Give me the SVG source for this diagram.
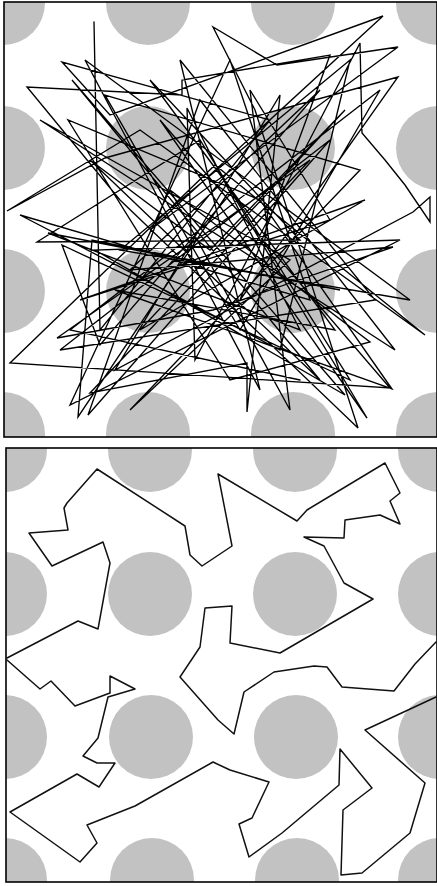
<svg xmlns="http://www.w3.org/2000/svg" width="437" height="886" viewBox="0 0 437 886">
<style>
.dot{fill:#c2c2c2}
.chain{fill:none;stroke:#000;stroke-width:1.35;stroke-linejoin:miter;stroke-linecap:round}
.chain2{fill:none;stroke:#111;stroke-width:1.5;stroke-linejoin:round;stroke-linecap:round}
.frame{fill:none;stroke:#000;stroke-width:1.6}
</style>
<defs>
<clipPath id="clipTop"><rect x="4" y="2" width="433" height="435"/></clipPath>
<clipPath id="clipBot"><rect x="6" y="448" width="431" height="434"/></clipPath>
</defs>
<rect x="0" y="0" width="437" height="886" fill="#fff"/>
<g id="panel-top">
<g id="obstacles-top" clip-path="url(#clipTop)">
<circle class="dot" cx="3" cy="3" r="42"/><circle class="dot" cx="148" cy="3" r="42"/><circle class="dot" cx="293" cy="3" r="42"/><circle class="dot" cx="438" cy="3" r="42"/>
<circle class="dot" cx="3" cy="148" r="42"/><circle class="dot" cx="148" cy="148" r="42"/><circle class="dot" cx="293" cy="148" r="42"/><circle class="dot" cx="438" cy="148" r="42"/>
<circle class="dot" cx="3" cy="291" r="42"/><circle class="dot" cx="148" cy="291" r="42"/><circle class="dot" cx="293" cy="291" r="42"/><circle class="dot" cx="438" cy="291" r="42"/>
<circle class="dot" cx="3" cy="434" r="42"/><circle class="dot" cx="148" cy="434" r="42"/><circle class="dot" cx="293" cy="434" r="42"/><circle class="dot" cx="438" cy="434" r="42"/>
</g>
<g id="chain-top">
<polyline class="chain" points="94,22 100,330 270,120 62,62 110,115 383,16 150,230 398,47 277,65 213,27 255,110 358,428 120,200 27,87 182,95 182,80 330,55 240,300 398,77 105,158 7,211 140,130 425,335 215,165 10,363 390,388 160,120 367,418 230,190 78,417 92,240 340,290 48,233 300,330 187,108 195,360 360,43 362,133 385,160 405,185 430,222 430,197 413,212 115,370 280,95 247,412 247,363 90,393 310,160 57,338 213,310 393,247 130,270 320,90 100,345 62,245 350,380 200,140 37,242 300,240 150,80 335,330 115,290 392,389 260,200 68,120 230,380 370,342 170,190 290,410 250,90 330,220 80,300 365,200 140,330 345,110 210,250 90,160 320,380 72,80 345,395 95,250 400,240 70,405 230,60 310,300 20,215 280,350 350,60 120,250 410,300 85,60 260,390 180,60 375,300 60,350 330,140 88,415 200,100 395,350 40,120 290,260 130,410 360,170 105,95 240,330 380,90 70,330 300,380"/>
</g>
<rect class="frame" x="4" y="2" width="433" height="435"/>
</g>
<g id="panel-bottom">
<g id="obstacles-bottom" clip-path="url(#clipBot)">
<circle class="dot" cx="5" cy="450" r="42"/><circle class="dot" cx="150" cy="450" r="42"/><circle class="dot" cx="295" cy="450" r="42"/><circle class="dot" cx="440" cy="450" r="42"/>
<circle class="dot" cx="5" cy="594" r="42"/><circle class="dot" cx="150" cy="594" r="42"/><circle class="dot" cx="295" cy="594" r="42"/><circle class="dot" cx="440" cy="594" r="42"/>
<circle class="dot" cx="5" cy="737" r="42"/><circle class="dot" cx="151" cy="737" r="42"/><circle class="dot" cx="296" cy="737" r="42"/><circle class="dot" cx="440" cy="737" r="42"/>
<circle class="dot" cx="5" cy="880" r="42"/><circle class="dot" cx="152" cy="880" r="42"/><circle class="dot" cx="297" cy="880" r="42"/><circle class="dot" cx="440" cy="880" r="42"/>
</g>
<g id="chain-bottom">
<polyline class="chain2" points="7,658 78,621 98,629 110,563 103,542 52,566 29,533 68,530 64,508 67,503 97,469 185,526 190,555 202,566 232,546 218,474 297,521 307,510 385,463 400,493 390,501 400,524 380,515 345,520 344,538 304,537 324,546 344,583 373,599 280,653 230,643 232,606 205,608 200,647 190,662 180,677 218,720 234,734 244,692 274,672 314,666 327,667 342,687 394,691 415,664 436,642"/>
<polyline class="chain2" points="436,697 365,730 425,783 410,833 362,873 341,875 343,810 372,788 340,749 339,785 282,833 249,857 239,824 252,818 269,782 230,770 213,762 135,806 87,825 97,843 80,862 10,812 77,774 99,787 115,763 97,763 83,756 98,738 108,697 135,689 110,676 110,693 75,706 51,681 40,689 7,660"/>
</g>
<rect class="frame" x="6" y="448" width="431" height="434"/>
</g>
</svg>
